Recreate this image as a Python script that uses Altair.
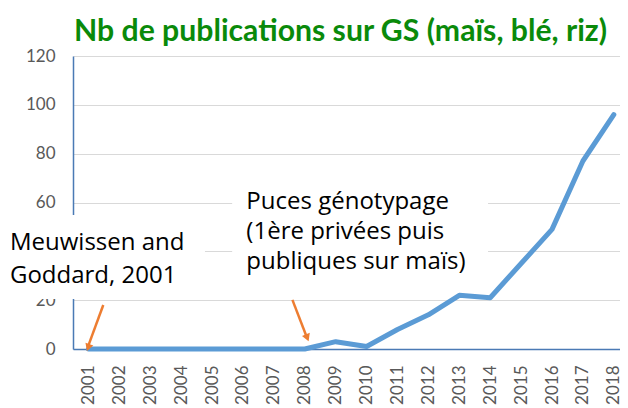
import altair as alt
import pandas as pd

# ---- data ----
years = list(range(2001, 2019))
publications = [0, 0, 0, 0, 0, 0, 0, 0, 3, 1, 8, 14, 22, 21, 35, 49, 77, 96]
y_ticks = [0, 20, 40, 60, 80, 100, 120]

title_text = "Nb de publications sur GS (maïs, blé, riz)"
note1_lines = ["Meuwissen and", "Goddard, 2001"]
note2_lines = ["Puces génotypage", "(1ère privées puis", "publiques sur maïs)"]

df = pd.DataFrame({"year": years, "n": publications})

# annotation layout (in data units)
notes = pd.DataFrame({
    "txt": note1_lines + note2_lines,
    "x": [1998.46, 1998.46, 2006.11, 2006.11, 2006.11],
    "y": [40.5, 27.0, 57.5, 45.0, 32.8],
})
boxes = pd.DataFrame({
    "x": [1998.0, 2005.65], "x2": [2004.77, 2013.93],
    "y": [20.5, 26.2], "y2": [54.9, 67.2],
})
arrows = pd.DataFrame({
    "id": ["a", "a", "b", "b"],
    "x": [2001.48, 2001.0, 2007.60, 2008.06],
    "y": [18.0, 1.5, 20.1, 5.0],
    "o": [0, 1, 0, 1],
})
heads = pd.DataFrame({
    "x": [2000.99, 2008.08], "y": [0.6, 4.6], "ang": [200, 158],
})

xscale = alt.Scale(domain=[2000.5, 2018.2], nice=False, zero=False)
yscale = alt.Scale(domain=[0, 120], nice=False)

line = alt.Chart(df).mark_line(
    color="#5B9BD5", strokeWidth=5, strokeJoin="round", strokeCap="round"
).encode(
    x=alt.X("year:Q", scale=xscale, title=None,
            axis=alt.Axis(values=years, tickCount=len(years) + 2, format="d",
                          labelAngle=270, grid=False,
                          ticks=False, labelPadding=16, labelFontSize=17,
                          labelFont="Lato", labelColor="#595959",
                          domainColor="#4a7ab5", domainWidth=1.5, zindex=0,
                          labelOverlap=False)),
    y=alt.Y("n:Q", scale=yscale, title=None,
            axis=alt.Axis(values=y_ticks, tickCount=len(y_ticks) + 2,
                          ticks=False, labelPadding=18,
                          labelFontSize=17, labelFont="Lato", labelColor="#595959",
                          gridColor="#d9d9d9", domainColor="#4a7ab5",
                          domainWidth=1.5, zindex=0)),
)

rects = alt.Chart(boxes).mark_rect(color="white").encode(
    x=alt.X("x:Q", scale=xscale), x2="x2:Q",
    y=alt.Y("y:Q", scale=yscale), y2="y2:Q",
)

arrow_lines = alt.Chart(arrows).mark_line(color="#ED7D31", strokeWidth=2.5).encode(
    x=alt.X("x:Q", scale=xscale), y=alt.Y("y:Q", scale=yscale),
    detail="id:N", order="o:Q",
)

arrow_heads = alt.Chart(heads).mark_point(
    shape="triangle-up", filled=True, color="#ED7D31", size=70, opacity=1
).encode(
    x=alt.X("x:Q", scale=xscale), y=alt.Y("y:Q", scale=yscale),
    angle=alt.Angle("ang:Q", scale=None),
)

texts = alt.Chart(notes).mark_text(
    align="left", baseline="alphabetic", font="Open Sans", fontSize=24,
    color="black"
).encode(
    x=alt.X("x:Q", scale=xscale), y=alt.Y("y:Q", scale=yscale), text="txt:N",
)

chart = alt.layer(line, rects, arrow_lines, arrow_heads, texts).properties(
    width=547, height=293,
    title=alt.TitleParams(title_text, font="Lato", fontSize=30.2, fontWeight="bold",
                          color="#0a8a0a", anchor="start", frame="group",
                          dx=1, offset=0),
    autosize=alt.AutoSizeParams(type="none"),
    padding={"left": 65, "top": 48, "right": 0, "bottom": 59},
).configure_view(stroke=None).configure_axisX(labelOverlap=False)

chart.save("out.html", embed_options={"renderer": "svg", "actions": False})
